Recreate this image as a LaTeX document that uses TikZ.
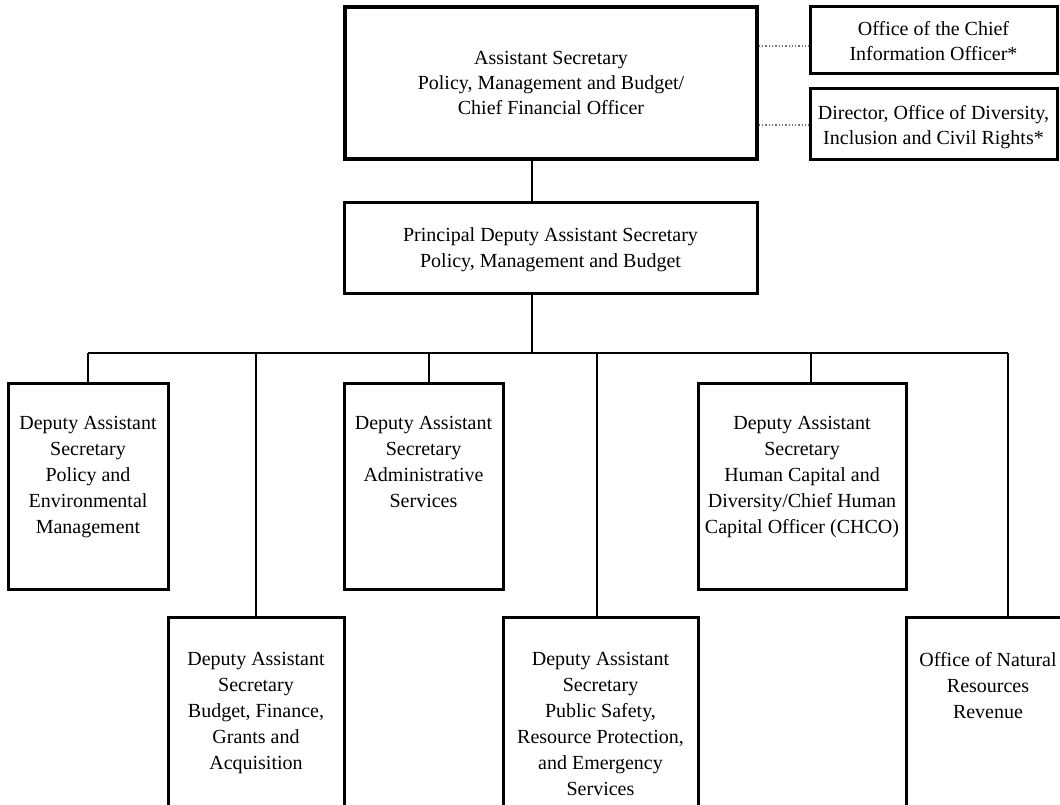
\documentclass[tikz,border=0pt]{standalone}
\usepackage{fontspec}
\setmainfont{Liberation Serif}
\begin{document}
\begin{tikzpicture}[x=1pt,y=-1pt,
  box/.style={draw=black, line width=3pt, inner sep=0pt},
  topbox/.style={box, line width=3.6pt},
  txt/.style={inner sep=0pt, align=center, anchor=north,
              font=\fontsize{20}{26}\selectfont},
  txtmid/.style={txt, font=\fontsize{20}{25}\selectfont},
  link/.style={line width=2pt},
  dotlink/.style={draw=black!55, line width=1.3pt, dotted}]
\useasboundingbox (0,0) rectangle (1060,805);
\clip (0,0) rectangle (1060,805);

% ---- boxes (centre, width, height in pt) ----
\node[topbox, minimum width=412pt, minimum height=152pt] (T)  at (551,83) {};
\node[box, minimum width=247pt, minimum height=67pt]  (S1) at (933.5,40) {};
\node[box, minimum width=247pt, minimum height=71pt]  (S2) at (933.5,124.5) {};
\node[box, minimum width=413pt, minimum height=90pt]  (P)  at (550.5,248) {};

\node[box, minimum width=160pt, minimum height=206pt] (A) at (88,486) {};
\node[box, minimum width=159pt, minimum height=206pt] (B) at (423.5,486) {};
\node[box, minimum width=208pt, minimum height=206pt] (C) at (802,486) {};

\node[box, minimum width=176pt, minimum height=213pt] (D) at (256,723.5) {};
\node[box, minimum width=195pt, minimum height=213pt] (E) at (600.5,723.5) {};
\node[box, minimum width=164pt, minimum height=213pt] (F) at (988,723.5) {};

% ---- box texts ----
\node[txtmid] (Tt) at (551,51.3)
  {Assistant Secretary\\Policy, Management and Budget/\\Chief Financial Officer};
\node[txtmid] (S1t) at (933.5,20.8) {Office of the Chief\\Information Officer*};
\node[txtmid] (S2t) at (933.5,104.8) {Director, Office of Diversity,\\Inclusion and Civil Rights*};
\node[txt] (Pt) at (550.5,227.8)
  {Principal Deputy Assistant Secretary\\Policy, Management and Budget};

\node[txt] (At) at (88,415.8)
  {Deputy Assistant\\Secretary\\Policy and\\Environmental\\Management};
\node[txt] (Bt) at (423.5,415.8)
  {Deputy Assistant\\Secretary\\Administrative\\Services};
\node[txt] (Ct) at (802,415.8)
  {Deputy Assistant\\Secretary\\Human Capital and\\Diversity/Chief Human\\Capital Officer (CHCO)};

\node[txt] (Dt) at (256,652.3)
  {Deputy Assistant\\Secretary\\Budget, Finance,\\Grants and\\Acquisition};
\node[txt] (Et) at (600.5,652.3)
  {Deputy Assistant\\Secretary\\Public Safety,\\Resource Protection,\\and Emergency\\Services};
\node[txt] (Ft) at (988,652.3)
  {Office of Natural\\Resources\\Revenue};

% ---- dotted staff links ----
\coordinate (d1) at (0,46);
\coordinate (d2) at (0,125);
\draw[dotlink] (T.east |- d1) -- (S1.west |- d1);
\draw[dotlink] (T.east |- d2) -- (S2.west |- d2);

% ---- line of authority ----
\coordinate (vx) at (532,0);
\coordinate (bM) at (532,353);
\draw[link] (T.south -| vx) -- (P.north -| vx);
\draw[link] (P.south -| vx) -- (bM);

\coordinate (bA) at (88,353);
\coordinate (bD) at (256,353);
\coordinate (bB) at (429,353);
\coordinate (bE) at (597,353);
\coordinate (bC) at (811,353);
\coordinate (bF) at (1008,353);
\draw[link] (bA) -- (bF);

\draw[link] (bA) -- (bA |- A.north);
\draw[link] (bB) -- (bB |- B.north);
\draw[link] (bC) -- (bC |- C.north);
\draw[link] (bD) -- (bD |- D.north);
\draw[link] (bE) -- (bE |- E.north);
\draw[link] (bF) -- (bF |- F.north);
\end{tikzpicture}
\end{document}
